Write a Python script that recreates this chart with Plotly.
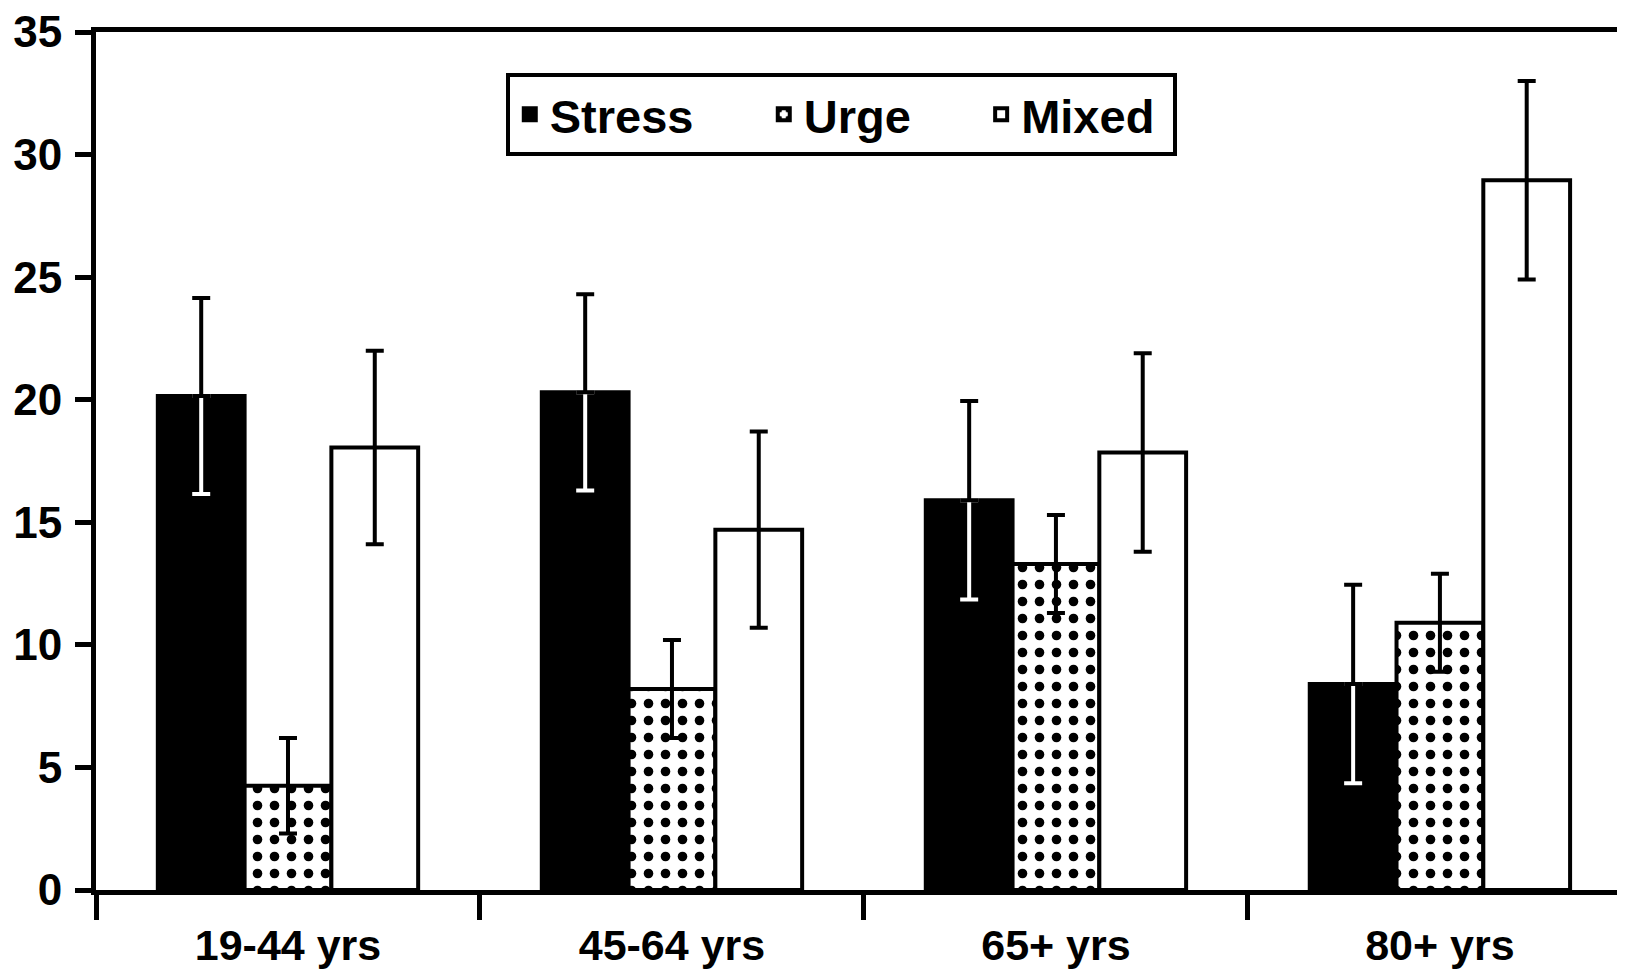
import plotly.graph_objects as go

categories = ["19-44 yrs", "45-64 yrs", "65+ yrs", "80+ yrs"]
stress = [20.15, 20.3, 15.9, 8.4]
stress_err = [4.0, 4.0, 4.05, 4.05]
urge = [4.25, 8.2, 13.3, 10.9]
urge_err = [1.95, 2.0, 2.0, 2.0]
mixed = [18.05, 14.7, 17.85, 28.95]
mixed_err = [3.95, 4.0, 4.05, 4.05]
zeros = [0, 0, 0, 0]

series_names = ["Stress", "Urge", "Mixed"]
legend_pad = "\u00a0" * 5

FONT = "Liberation Sans, Arial, sans-serif"
EB = dict(thickness=4, width=9)

fig = go.Figure()
fig.add_trace(go.Bar(
    name=series_names[0] + legend_pad, x=categories, y=stress, offsetgroup="stress",
    marker=dict(color="black", line=dict(color="black", width=4)),
))
fig.add_trace(go.Bar(
    name=series_names[1] + legend_pad, x=categories, y=urge, offsetgroup="urge",
    marker=dict(color="white", line=dict(color="black", width=4),
                pattern=dict(shape=".", fgcolor="black", bgcolor="white", fgopacity=1,
                             size=17, solidity=0.25, fillmode="overlay")),
    error_y=dict(type="data", array=urge_err, color="black", **EB),
))
fig.add_trace(go.Bar(
    name=series_names[2] + "\u00a0", x=categories, y=mixed, offsetgroup="mixed",
    marker=dict(color="white", line=dict(color="black", width=4)),
    error_y=dict(type="data", array=mixed_err, color="black", **EB),
))
# lower half of the Stress error bars is white (inside the black bars)
fig.add_trace(go.Bar(
    name="Stress lower", x=categories, y=stress, offsetgroup="stress", showlegend=False,
    marker=dict(color="rgba(0,0,0,0)", line=dict(width=0)),
    error_y=dict(type="data", symmetric=False, array=zeros, arrayminus=stress_err,
                 color="white", **EB),
    hoverinfo="skip",
))
# upper half of the Stress error bars is black
fig.add_trace(go.Bar(
    name="Stress upper", x=categories, y=stress, offsetgroup="stress", showlegend=False,
    marker=dict(color="rgba(0,0,0,0)", line=dict(width=0)),
    error_y=dict(type="data", symmetric=False, array=stress_err, arrayminus=zeros,
                 color="black", **EB),
    hoverinfo="skip",
))

# page body has an 8px margin, so the figure is 8px smaller on each axis
fig.update_layout(
    width=1617, height=972,
    margin=dict(l=88, r=0, t=24, b=90, autoexpand=False),
    paper_bgcolor="white", plot_bgcolor="white",
    barmode="group", bargap=0.322, bargroupgap=0,
    font=dict(family=FONT, size=44, color="black", weight="bold"),
    showlegend=True,
    legend=dict(
        orientation="h", x=0.268, y=0.952, xanchor="left", yanchor="top",
        bgcolor="white", bordercolor="black", borderwidth=4,
        font=dict(family=FONT, size=47, color="black", weight="bold"),
        traceorder="normal",
    ),
)
fig.update_xaxes(
    range=[-0.5, 3.482], showline=True, linecolor="black", linewidth=5,
    mirror=True, ticks="outside", tickson="boundaries", ticklen=25, tickwidth=5,
    tickcolor="black", showgrid=False, zeroline=False, automargin=False,
    tickfont=dict(family=FONT, size=43, color="black", weight="bold"),
    ticklabelstandoff=13, ticklabeloverflow="allow",
)
fig.update_yaxes(
    range=[0, 35], dtick=5, tick0=0, showline=True, linecolor="black", linewidth=5,
    ticks="outside", ticklen=16, tickwidth=5, tickcolor="black",
    showgrid=False, zeroline=False, automargin=False,
    tickfont=dict(family=FONT, size=44, color="black", weight="bold"),
    ticklabelstandoff=4, ticklabeloverflow="allow",
)

fig.write_html("out.html")
